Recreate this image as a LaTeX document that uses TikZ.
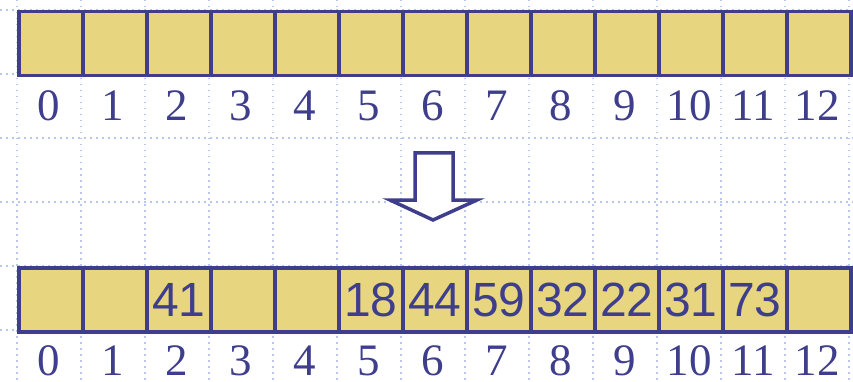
\documentclass[tikz,border=0pt]{standalone}
\usepackage{fontspec}
\setmainfont{Liberation Serif}
\newfontfamily\cellfont{Liberation Sans}
\definecolor{navy}{RGB}{62,62,140}
\definecolor{cellfill}{RGB}{232,213,128}
\definecolor{gridblue}{RGB}{185,198,238}
\tikzset{
  gridline/.style={draw=gridblue, line width=1.3pt, dash pattern=on 1.5pt off 4.5pt},
  cellbox/.style={draw=navy, fill=cellfill, line width=3.5pt, minimum width=64pt, minimum height=64pt, inner sep=0pt, anchor=north west, font=\cellfont\fontsize{48}{48}\selectfont, text=navy},
  idxlabel/.style={font=\fontsize{45}{45}\selectfont, text=navy, inner sep=0pt},
  bigarrow/.style={draw=navy, fill=white, line width=3.5pt, line join=miter}
}
\begin{document}
\begin{tikzpicture}[x=1pt,y=-1pt]
\useasboundingbox (0,0) rectangle (853,382);
% dotted grid
\foreach \k in {0,...,13} {\draw[gridline] (17+64*\k,0) -- (17+64*\k,382);}
\foreach \k in {0,...,5} {\draw[gridline] (0,10+64*\k) -- (853,10+64*\k);}
% top row
\foreach \i in {0,...,12} {
  \node[cellbox] (t\i) at (17+64*\i,10) {};
  \node[idxlabel] (lt\i) at (49+64*\i,106) {\i};
}
% bottom row
\foreach \i/\v in {0/,1/,2/41,3/,4/,5/18,6/44,7/59,8/32,9/22,10/31,11/73,12/} {
  \node[cellbox] (b\i) at (17+64*\i,266) {\v};
  \node[idxlabel] (lb\i) at (49+64*\i,361) {\i};
}
% arrow
\draw[bigarrow] (415,153) -- (453,153) -- (453,200) -- (477,200) -- (433,220) -- (390,200) -- (415,200) -- cycle;
\end{tikzpicture}
\end{document}
